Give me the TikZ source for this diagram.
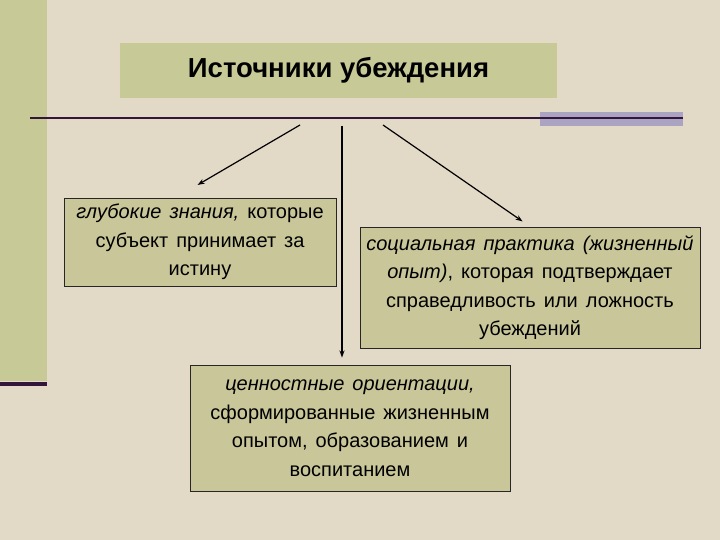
\documentclass[tikz,border=0pt]{standalone}
\usepackage{fontspec}
\setmainfont{Liberation Sans}
\usetikzlibrary{arrows.meta,calc}
\definecolor{paper}{RGB}{226,217,199}
\definecolor{khaki}{RGB}{199,201,150}
\definecolor{boxfill}{RGB}{201,199,153}
\definecolor{plum}{RGB}{52,22,58}
\definecolor{lilac}{RGB}{170,164,194}
\newcommand{\widesp}{\spaceskip=0.4em plus 0.1em\relax}
\tikzset{
  srcbox/.style={draw=black!85,line width=0.9pt,fill=boxfill,align=center,inner sep=0pt,
    font=\fontsize{20}{28.5}\selectfont\widesp},
  ttl/.style={fill=khaki,inner sep=0pt,font=\bfseries\fontsize{27.5}{30}\selectfont},
  arr/.style={line width=1.2pt,-{Stealth[length=7pt,width=5pt]}},
}

\begin{document}
\begin{tikzpicture}[x=1pt,y=-1pt]
  \useasboundingbox (0,0) rectangle (720,540);
  \fill[paper] (0,0) rectangle (720,540);
  \fill[khaki] (0,0) rectangle (47,381);
  \fill[plum] (0,381.5) rectangle (47,385.5);
  \fill[lilac] (540,112) rectangle (683,126);
  \draw[plum,line width=2pt] (30,118) -- (683,118);
  \node[ttl,minimum width=437pt,minimum height=55pt] (title) at (338.5,70.5) {Источники убеждения};
  \node[srcbox,minimum width=272pt,minimum height=88pt] (deep) at (200,242)
    {\textit{глубокие знания,} которые\\ субъект принимает за\\ истину};
  \node[srcbox,minimum width=340pt,minimum height=121pt] (social) at (530,287.5)
    {\textit{социальная практика (жизненный}\\ \textit{опыт)}, которая подтверждает\\ справедливость или ложность\\ убеждений};
  \node[srcbox,minimum width=320pt,minimum height=126pt] (values) at (350,428)
    {\textit{ценностные ориентации,}\\ сформированные жизненным\\ опытом, образованием и\\ воспитанием};
  \coordinate (lt) at (300,125);
  \coordinate (mid) at (342,126);
  \coordinate (rt) at (383,125);
  \draw[arr,shorten >=25pt] (lt) -- ($(deep.north)+(-24,0)$);
  \draw[arr,shorten >=7pt] (mid) -- (mid |- values.north);
  \draw[arr,shorten >=9pt] (rt) -- (social.north);
\end{tikzpicture}
\end{document}
